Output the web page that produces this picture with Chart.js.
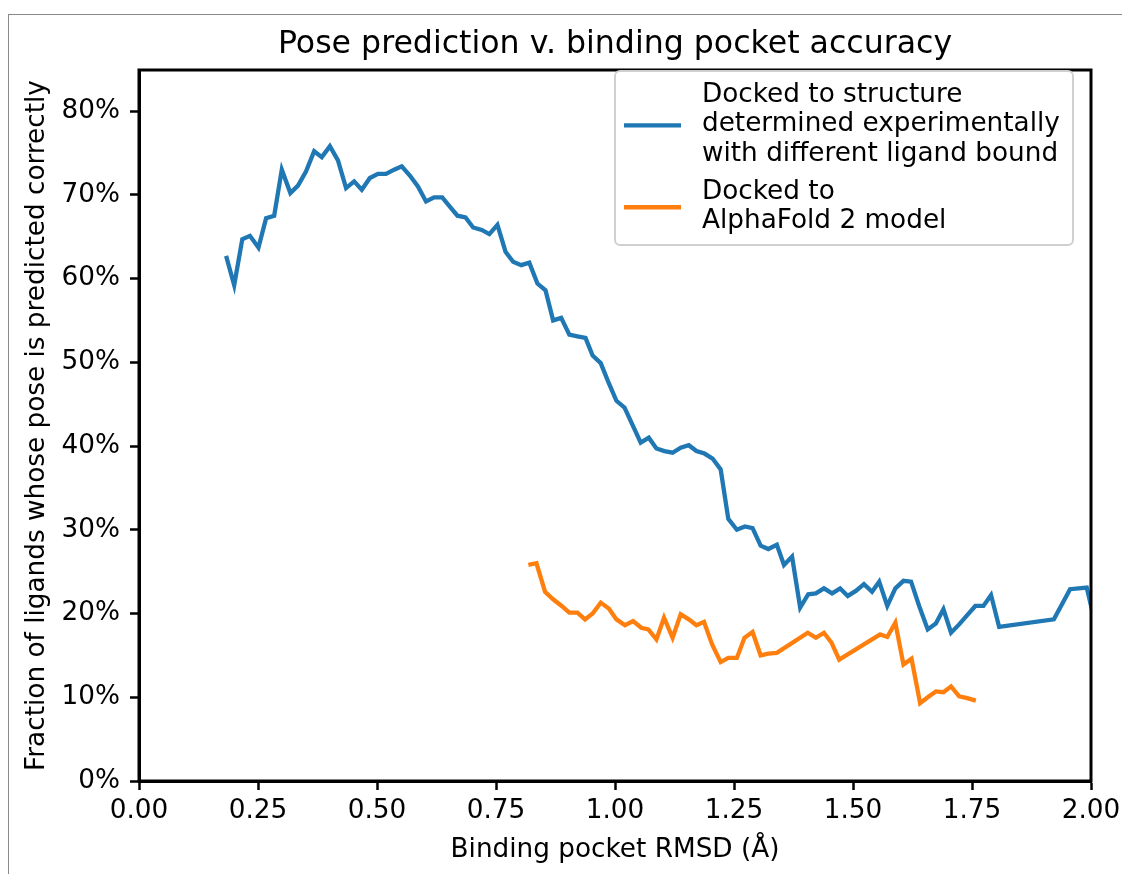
<!DOCTYPE html>
<html>
<head>
<meta charset="utf-8">
<script src="https://cdn.jsdelivr.net/npm/chart.js@4.4.1/dist/chart.umd.min.js"></script>
<style>
    html, body { margin: 0; padding: 0; background: #fff; }
    #wrap { position: relative; width: 1122px; height: 874px; overflow: hidden; }
    #frame { position: absolute; left: 8px; top: 14px; width: 2000px; height: 2000px;
             border-left: 1.5px solid #8a8a8a; border-top: 1.5px solid #8a8a8a; }
    #poseChart { position: absolute; left: 0; top: 0; }
</style>
</head>
<body>
<div id="wrap">
    <div id="frame"></div>
    <canvas id="poseChart" width="1122" height="874"></canvas>
</div>
<script>
// --- data ---
const expX = [0.183, 0.200, 0.217, 0.233, 0.251, 0.267, 0.284, 0.300, 0.318, 0.334,
    0.351, 0.368, 0.384, 0.401, 0.418, 0.435, 0.452, 0.468, 0.485, 0.502,
    0.519, 0.536, 0.552, 0.569, 0.586, 0.603, 0.620, 0.637, 0.653, 0.669,
    0.686, 0.702, 0.720, 0.736, 0.753, 0.770, 0.786, 0.803, 0.820, 0.837,
    0.854, 0.870, 0.887, 0.904, 0.921, 0.938, 0.953, 0.970, 0.987, 1.003,
    1.020, 1.037, 1.054, 1.071, 1.087, 1.104, 1.121, 1.138, 1.155, 1.171,
    1.188, 1.205, 1.222, 1.238, 1.256, 1.273, 1.289, 1.306, 1.322, 1.340,
    1.355, 1.372, 1.389, 1.406, 1.422, 1.439, 1.456, 1.473, 1.489, 1.506,
    1.523, 1.540, 1.555, 1.572, 1.589, 1.606, 1.622, 1.639, 1.657, 1.674,
    1.690, 1.706, 1.723, 1.740, 1.757, 1.774, 1.790, 1.807, 1.922, 1.956,
    1.991, 2.008];
const expY = [62.7, 59.2, 64.7, 65.1, 63.7, 67.2, 67.5, 73.0, 70.2, 71.1,
    72.8, 75.2, 74.5, 75.8, 74.1, 70.8, 71.6, 70.6, 72.0, 72.5,
    72.5, 73.0, 73.4, 72.3, 71.0, 69.2, 69.7, 69.7, 68.6, 67.5,
    67.3, 66.1, 65.8, 65.3, 66.4, 63.2, 62.0, 61.6, 61.9, 59.4,
    58.6, 55.0, 55.3, 53.3, 53.1, 52.9, 50.8, 49.9, 47.5, 45.4,
    44.6, 42.5, 40.4, 41.0, 39.7, 39.4, 39.2, 39.8, 40.1, 39.4,
    39.1, 38.5, 37.2, 31.3, 30.0, 30.4, 30.2, 28.1, 27.7, 28.2,
    25.8, 26.8, 20.7, 22.3, 22.4, 23.0, 22.4, 23.0, 22.1, 22.7,
    23.5, 22.6, 23.8, 20.9, 23.0, 23.9, 23.8, 20.9, 18.1, 18.8,
    20.5, 17.7, 18.7, 19.8, 20.9, 20.9, 22.2, 18.4, 19.3, 22.9,
    23.1, 19.0];

const afX = [0.818, 0.835, 0.853, 0.870, 0.888, 0.904, 0.921, 0.937, 0.953, 0.970,
    0.987, 1.003, 1.021, 1.038, 1.055, 1.070, 1.087, 1.103, 1.121, 1.138,
    1.155, 1.171, 1.187, 1.204, 1.222, 1.238, 1.256, 1.272, 1.289, 1.306,
    1.322, 1.340, 1.405, 1.422, 1.439, 1.455, 1.471, 1.557, 1.572, 1.589,
    1.606, 1.623, 1.641, 1.657, 1.674, 1.690, 1.706, 1.723, 1.740, 1.758];
const afY = [25.8, 26.0, 22.6, 21.7, 20.9, 20.1, 20.1, 19.3, 20.0, 21.3,
    20.6, 19.3, 18.6, 19.1, 18.3, 18.1, 16.9, 19.5, 17.1, 19.9,
    19.3, 18.6, 19.0, 16.3, 14.2, 14.7, 14.7, 17.1, 17.8, 15.0,
    15.2, 15.3, 17.7, 17.1, 17.7, 16.5, 14.5, 17.5, 17.2, 18.9,
    13.9, 14.6, 9.3, 10.0, 10.7, 10.6, 11.3, 10.1, 9.9, 9.6];

const seriesLabels = [
    ['Docked to structure', 'determined experimentally', 'with different ligand bound'],
    ['Docked to', 'AlphaFold 2 model']
];
const seriesColors = ['#1f77b4', '#ff7f0e'];

const xTicks = [0, 0.25, 0.5, 0.75, 1.0, 1.25, 1.5, 1.75, 2.0];
const yTicks = [0, 10, 20, 30, 40, 50, 60, 70, 80];

const chartTitle = 'Pose prediction v. binding pocket accuracy';

const FONT = 'DejaVu Sans';
const SIZE = 26.3;
const toPoints = (xs, ys) => xs.map((x, i) => ({ x: x, y: ys[i] }));

// title, top/right spines and the matplotlib-style legend box
const framePlugin = {
    id: 'frame',
    afterDraw(chart) {
        const { ctx, chartArea: a } = chart;
        ctx.save();
        ctx.strokeStyle = '#000';
        ctx.lineWidth = 3;
        ctx.strokeRect(a.left, a.top, a.right - a.left, a.bottom - a.top);

        // title centred over the axes
        ctx.font = '31.6px "' + FONT + '"';
        ctx.fillStyle = '#000';
        ctx.textAlign = 'center';
        ctx.textBaseline = 'alphabetic';
        ctx.fillText(chartTitle, (a.left + a.right) / 2, a.top - 17);

        // legend
        const w = 458, h = 174;
        const bx = a.right - 18, by = a.top + 1;
        const left = bx - w;
        ctx.beginPath();
        ctx.roundRect(left, by, w, h, 5);
        ctx.fillStyle = 'rgba(255,255,255,0.8)';
        ctx.fill();
        ctx.strokeStyle = '#d0d0d0';
        ctx.lineWidth = 2;
        ctx.stroke();

        ctx.font = SIZE + 'px "' + FONT + '"';
        ctx.fillStyle = '#000';
        ctx.textAlign = 'left';
        const lineH = 29.3;
        let base = by + 31;
        seriesLabels.forEach((lines, i) => {
            const first = base;
            lines.forEach((t, j) => ctx.fillText(t, left + 87, base + j * lineH));
            const last = base + (lines.length - 1) * lineH;
            const sy = (first + last) / 2 - 6;
            ctx.beginPath();
            ctx.moveTo(left + 9, sy);
            ctx.lineTo(left + 66, sy);
            ctx.strokeStyle = seriesColors[i];
            ctx.lineWidth = 4.3;
            ctx.stroke();
            base = last + 38;
        });
        ctx.restore();
    }
};

const tickFont = { family: FONT, size: SIZE };

new Chart(document.getElementById('poseChart'), {
    type: 'line',
    data: {
        datasets: [{
            label: seriesLabels[0].join(' '),
            data: toPoints(expX, expY),
            borderColor: seriesColors[0],
            borderWidth: 4.3,
            pointRadius: 0,
            tension: 0
        }, {
            label: seriesLabels[1].join(' '),
            data: toPoints(afX, afY),
            borderColor: seriesColors[1],
            borderWidth: 4.3,
            pointRadius: 0,
            tension: 0
        }]
    },
    options: {
        responsive: false,
        animation: false,
        layout: { padding: { left: 0, right: 31, top: 70, bottom: 0 } },
        plugins: {
            legend: { display: false },
            tooltip: { enabled: false },
            title: { display: false }
        },
        scales: {
            x: {
                type: 'linear',
                min: 0,
                max: 2,
                afterBuildTicks: s => { s.ticks = xTicks.map(v => ({ value: v })); },
                afterFit: s => { s.height = 93; s.paddingLeft = 0; s.paddingRight = 0; },
                ticks: {
                    color: '#000',
                    font: tickFont,
                    padding: 5,
                    maxRotation: 0,
                    callback: v => Number(v).toFixed(2)
                },
                grid: { drawOnChartArea: false, tickLength: 9, tickWidth: 2.5, tickColor: '#000' },
                border: { display: true, color: '#000', width: 3 },
                title: {
                    display: true,
                    text: 'Binding pocket RMSD (Å)',
                    color: '#000',
                    font: tickFont,
                    padding: { top: 0, bottom: 8 }
                }
            },
            y: {
                min: 0,
                max: 84.9,
                afterBuildTicks: s => { s.ticks = yTicks.map(v => ({ value: v })); },
                afterFit: s => { s.width = 139; s.paddingTop = 0; s.paddingBottom = 0; },
                ticks: {
                    color: '#000',
                    font: tickFont,
                    padding: 10,
                    callback: v => v + '%'
                },
                grid: { drawOnChartArea: false, tickLength: 9, tickWidth: 2.5, tickColor: '#000' },
                border: { display: true, color: '#000', width: 3 },
                title: {
                    display: true,
                    text: 'Fraction of ligands whose pose is predicted correctly',
                    color: '#000',
                    font: tickFont,
                    padding: { top: 21, bottom: 0 }
                }
            }
        }
    },
    plugins: [framePlugin]
});
</script>
</body>
</html>
